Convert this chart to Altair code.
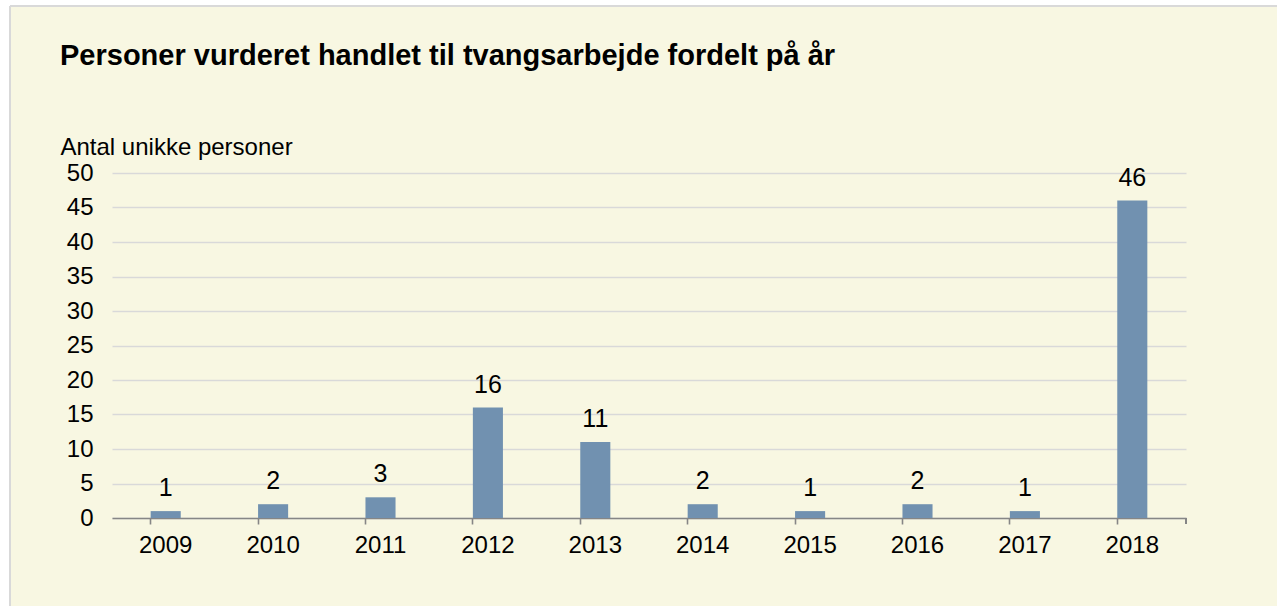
import altair as alt
import pandas as pd

TITLE = "Personer vurderet handlet til tvangsarbejde fordelt på år"
years = ["2009", "2010", "2011", "2012", "2013", "2014", "2015", "2016", "2017", "2018"]
values = [1, 2, 3, 16, 11, 2, 1, 2, 1, 46]

df = pd.DataFrame({"year": years, "value": values})
tdf = pd.DataFrame({"t": [TITLE]})

W, H = 1074, 345
FONT = "Liberation Sans"
FS = 24

x_enc = alt.X(
    "year:N",
    sort=years,
    scale=alt.Scale(paddingInner=0.72, paddingOuter=0.36),
    axis=alt.Axis(
        title=None,
        bandPosition=0,
        labelAngle=0,
        labelFontSize=FS,
        labelColor="#000000",
        labelFont=FONT,
        labelPadding=9,
        domainColor="#868686",
        domainWidth=1.6,
        tickColor="#868686",
        tickWidth=1.6,
        tickSize=6,
        grid=False,
    ),
)
y_enc = alt.Y(
    "value:Q",
    scale=alt.Scale(domain=[0, 50]),
    axis=alt.Axis(
        title="Antal unikke personer",
        titleAngle=0,
        titleAlign="left",
        titleBaseline="alphabetic",
        titleX=-52,
        titleY=-19,
        titleFontSize=FS,
        titleFontWeight="normal",
        titleFont=FONT,
        titleColor="#000000",
        values=list(range(0, 51, 5)),
        labelOverlap=False,
        labelFontSize=FS,
        labelColor="#000000",
        labelFont=FONT,
        labelPadding=19,
        domain=False,
        ticks=False,
        gridColor="#d9d9d9",
        gridWidth=1.5,
    ),
)

# white margin strips outside the framed box, plus the thin gray frame lines
strip_left = alt.Chart(df).mark_rect(fill="#ffffff").encode(
    x=alt.value(-112), x2=alt.value(-102), y=alt.value(-173), y2=alt.value(H + 88)
)
strip_top = alt.Chart(df).mark_rect(fill="#ffffff").encode(
    x=alt.value(-112), x2=alt.value(W + 91), y=alt.value(-173), y2=alt.value(-167)
)
border_left = alt.Chart(df).mark_rule(color="#d9d9d9", strokeWidth=2).encode(
    x=alt.value(-102), y=alt.value(-167), y2=alt.value(H + 88)
)
border_top = alt.Chart(df).mark_rule(color="#d9d9d9", strokeWidth=2).encode(
    x=alt.value(-102), x2=alt.value(W + 91), y=alt.value(-167)
)

title = alt.Chart(tdf).mark_text(
    align="left", baseline="alphabetic", fontSize=29, fontWeight="bold",
    font=FONT, color="#000000"
).encode(text="t:N", x=alt.value(-52), y=alt.value(-108))

bars = alt.Chart(df).mark_bar(color="#7191b0").encode(x=x_enc, y=y_enc)

labels = alt.Chart(df).mark_text(
    baseline="bottom", dy=-10, fontSize=FS + 1, font=FONT, color="#000000"
).encode(x=x_enc, y=y_enc, text="value:Q")

end_tick = alt.Chart(df).mark_rule(color="#868686", strokeWidth=1.6).encode(
    x=alt.value(W), y=alt.value(H), y2=alt.value(H + 6)
)

chart = alt.layer(
    strip_left, strip_top, border_left, border_top, title, bars, labels, end_tick
).properties(
    width=W,
    height=H,
    background="#f8f7e2",
    padding={"left": 112, "top": 173, "right": 91, "bottom": 88},
    autosize=alt.AutoSizeParams(type="none"),
).configure_view(stroke=None)

chart.save("out.html", embed_options={"renderer": "svg", "actions": False})
